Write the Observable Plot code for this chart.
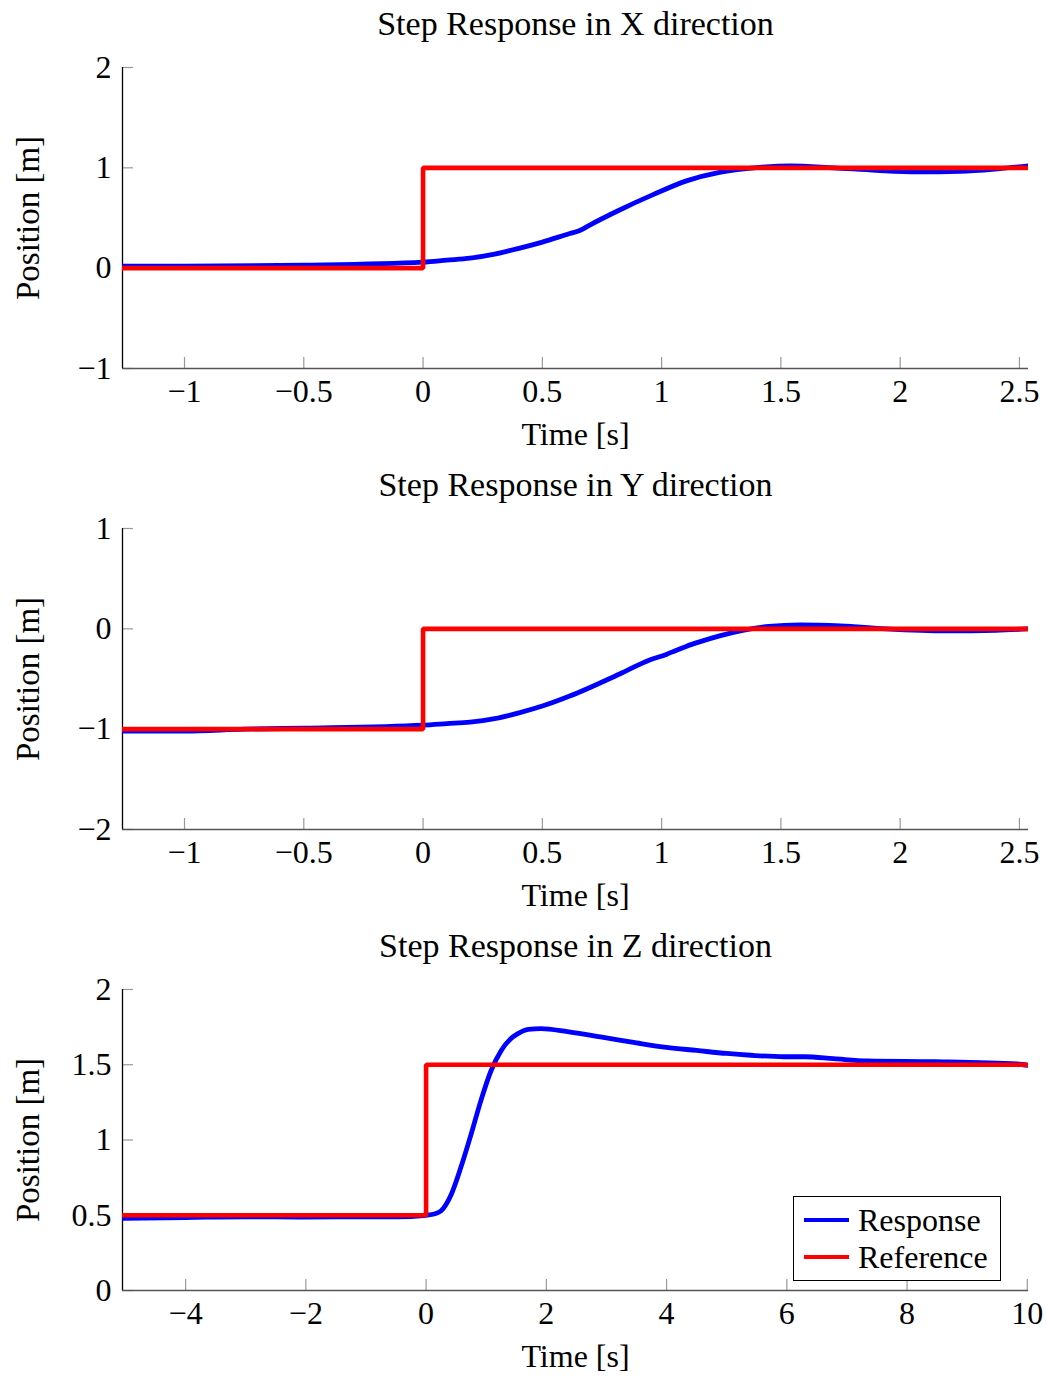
<!DOCTYPE html>
<html>
<head>
<meta charset="utf-8">
<script src="https://cdn.jsdelivr.net/npm/d3@7"></script>
<script src="https://cdn.jsdelivr.net/npm/@observablehq/plot@0.6"></script>
<style>
  body { margin: 0; background: #fff; }
  #wrap { position: relative; width: 1047px; height: 1376px; overflow: hidden; font-family: "Liberation Serif", "DejaVu Serif", serif; }
  #wrap svg { display: block; }
  .legend { position: absolute; left: 793px; top: 1196px; width: 206px; height: 83px; border: 1px solid #000; background: #fff; }
  .legend .row { position: absolute; left: 0; height: 36px; display: flex; align-items: center; font-size: 32px; }
  .legend .sw { width: 45px; height: 4.5px; margin-left: 10px; margin-right: 9px; }
</style>
</head>
<body>
<div id="wrap"></div>
<script>
// ---------- data ----------
// X direction
const xRespT = [-1.26, -1, -0.5, 0, 0.1, 0.197, 0.3, 0.406, 0.5, 0.615, 0.657, 0.699, 0.824, 0.962, 1.104, 1.243, 1.326, 1.41, 1.54, 1.72, 1.9, 2.07, 2.25, 2.41, 2.538];
const xRespV = [0.02, 0.02, 0.03, 0.06, 0.08, 0.10, 0.14, 0.20, 0.26, 0.345, 0.375, 0.43, 0.58, 0.73, 0.87, 0.955, 0.985, 1.005, 1.02, 1.0, 0.975, 0.96, 0.965, 0.99, 1.02];
const xRefT = [-1.26, 0, 0, 2.538];
const xRefV = [0, 0, 1, 1];
// Y direction
const yRespT = [-1.26, -1, -0.75, -0.5, 0, 0.1, 0.197, 0.3, 0.406, 0.5, 0.615, 0.824, 0.95, 1.02, 1.06, 1.103, 1.159, 1.243, 1.34, 1.45, 1.58, 1.75, 1.94, 2.2, 2.4, 2.538];
const yRespV = [-1.02, -1.02, -1.0, -0.99, -0.96, -0.945, -0.93, -0.895, -0.835, -0.77, -0.67, -0.45, -0.31, -0.255, -0.215, -0.175, -0.13, -0.07, -0.015, 0.025, 0.04, 0.03, 0.0, -0.02, -0.015, 0.0];
const yRefT = [-1.26, 0, 0, 2.538];
const yRefV = [-1, -1, 0, 0];
// Z direction
const zRespT = [-5.05, -4, -3, -2, -1, -0.5, 0, 0.15, 0.25, 0.42, 0.58, 0.75, 0.91, 1.08, 1.25, 1.4, 1.52, 1.7, 1.91, 2.35, 2.9, 3.5, 4.0, 4.5, 5.0, 5.4, 5.95, 6.3, 6.78, 7.34, 8.45, 9.83, 10.02];
const zRespV = [0.48, 0.485, 0.49, 0.488, 0.49, 0.49, 0.5, 0.51, 0.53, 0.64, 0.82, 1.04, 1.26, 1.46, 1.595, 1.67, 1.705, 1.735, 1.74, 1.72, 1.685, 1.645, 1.615, 1.595, 1.575, 1.563, 1.553, 1.553, 1.54, 1.525, 1.52, 1.505, 1.495];
const zRefT = [-5.05, 0, 0, 10.02];
const zRefV = [0.5, 0.5, 1.5, 1.5];

// axes
const titles = ["Step Response in X direction", "Step Response in Y direction", "Step Response in Z direction"];
const xLabel = "Time [s]";
const yLabel = "Position [m]";
const xyTicksX = [-1, -0.5, 0, 0.5, 1, 1.5, 2, 2.5];
const zTicksX = [-4, -2, 0, 2, 4, 6, 8, 10];
const xTicksY = [-1, 0, 1, 2];
const yTicksY = [-2, -1, 0, 1];
const zTicksY = [0, 0.5, 1, 1.5, 2];
const legendNames = ["Response", "Reference"];

// ---------- drawing ----------
const FONT = '"Liberation Serif", "DejaVu Serif", serif';
const BLUE = "#0000ff", RED = "#ff0000";
const fmt = d => (d < 0 ? "\u2212" : "") + Math.abs(d);
const zip = (t, v) => t.map((tt, i) => ({t: tt, v: v[i]}));

function panel({title, xDomain, yDomain, xTicks, yTicks, resp, ref, height}) {
  const W = 1047, ML = 122, MR = 19, MT = 67, PH = 301;
  const innerW = W - ML - MR;
  return Plot.plot({
    width: W, height,
    marginLeft: ML, marginRight: MR, marginTop: MT, marginBottom: height - MT - PH,
    style: {fontFamily: FONT, fontSize: "30px", color: "#000", background: "#fff", overflow: "visible"},
    x: {domain: xDomain, axis: null},
    y: {domain: yDomain, axis: null},
    marks: [
      // ticks (inward)
      Plot.tickX(xTicks, {x: d => d, insetTop: PH - 11, stroke: "#999", strokeWidth: 1.2}),
      Plot.tickY(yTicks, {y: d => d, insetRight: innerW - 11, stroke: "#999", strokeWidth: 1.2}),
      // axis lines
      Plot.ruleY([yDomain[0]], {stroke: "#555", strokeWidth: 1.3}),
      Plot.ruleX([xDomain[0]], {stroke: "#000", strokeWidth: 1.3}),
      // series
      Plot.line(resp, {x: "t", y: "v", stroke: BLUE, strokeWidth: 4.8, curve: "monotone-x", clip: true}),
      Plot.line(ref, {x: "t", y: "v", stroke: RED, strokeWidth: 4.6, strokeLinejoin: "miter", clip: true}),
      // tick labels
      Plot.text(xTicks, {x: d => d, text: fmt, frameAnchor: "bottom", lineAnchor: "middle", dy: 23, fontSize: 32}),
      Plot.text(yTicks, {y: d => d, text: fmt, frameAnchor: "left", textAnchor: "end", lineAnchor: "middle", dx: -11, fontSize: 32}),
      // titles / labels
      Plot.text([title], {frameAnchor: "top", textAnchor: "middle", lineAnchor: "middle", dy: -43, fontSize: 34}),
      Plot.text([xLabel], {frameAnchor: "bottom", textAnchor: "middle", lineAnchor: "middle", dy: 66, fontSize: 32}),
      Plot.text([yLabel], {frameAnchor: "left", textAnchor: "middle", lineAnchor: "middle", dx: -94, rotate: -90, fontSize: 33})
    ]
  });
}

const wrap = document.getElementById("wrap");
wrap.append(panel({title: titles[0], xDomain: [-1.26, 2.538], yDomain: [-1, 2], xTicks: xyTicksX, yTicks: xTicksY,
  resp: zip(xRespT, xRespV), ref: zip(xRefT, xRefV), height: 461}));
wrap.append(panel({title: titles[1], xDomain: [-1.26, 2.538], yDomain: [-2, 1], xTicks: xyTicksX, yTicks: yTicksY,
  resp: zip(yRespT, yRespV), ref: zip(yRefT, yRefV), height: 461}));
wrap.append(panel({title: titles[2], xDomain: [-5.05, 10.02], yDomain: [0, 2], xTicks: zTicksX, yTicks: zTicksY,
  resp: zip(zRespT, zRespV), ref: zip(zRefT, zRefV), height: 454}));

// legend
const leg = document.createElement("div");
leg.className = "legend";
[[legendNames[0], BLUE, 5], [legendNames[1], RED, 42]].forEach(([name, col, top]) => {
  const row = document.createElement("div");
  row.className = "row";
  row.style.top = top + "px";
  const sw = document.createElement("span");
  sw.className = "sw";
  sw.style.background = col;
  const tx = document.createElement("span");
  tx.textContent = name;
  row.append(sw, tx);
  leg.append(row);
});
wrap.append(leg);
</script>
</body>
</html>
